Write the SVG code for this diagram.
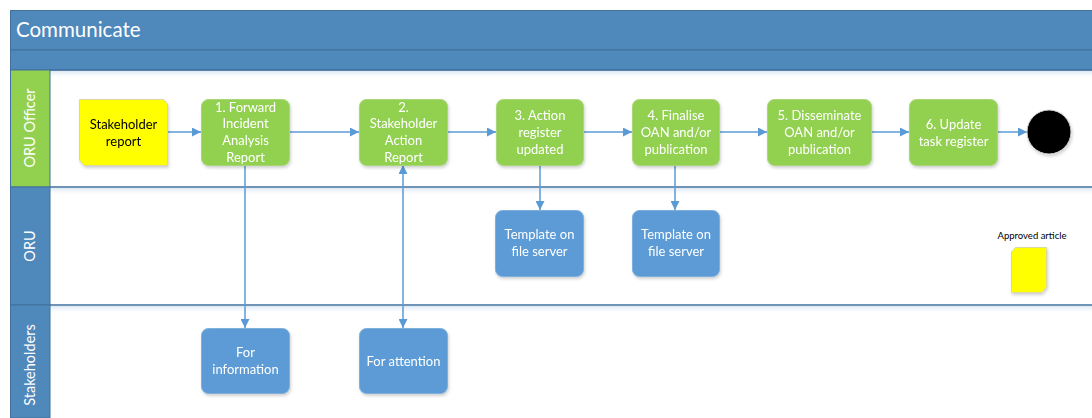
<svg xmlns="http://www.w3.org/2000/svg" width="1092" height="418" viewBox="0 0 1092 418">
  <defs>
    <style>
      .lbl { font-family: Lato, "Open Sans", "Liberation Sans", sans-serif; font-size: 13px; fill: #ffffff; text-anchor: middle; }
      .dark { fill: #000000; }
      .lane { font-family: Lato, "Open Sans", "Liberation Sans", sans-serif; font-size: 14.5px; fill: #ffffff; text-anchor: middle; }
      .task { fill: #92D050; stroke: #A9D67A; stroke-width: 1; }
      .info { fill: #5B9BD5; stroke: #7FB0DD; stroke-width: 1; }
      .conn { fill: none; stroke: #5B9BD5; stroke-width: 1.5; }
      .sep { stroke: #41719C; stroke-width: 1.5; }
    </style>
    <marker id="arrow" viewBox="0 0 10 10" refX="10" refY="5" markerWidth="9" markerHeight="9" markerUnits="userSpaceOnUse" orient="auto-start-reverse">
      <path d="M0,0 L10,5 L0,10 z" fill="#5B9BD5"/>
    </marker>
    <filter id="shadow" x="-10%" y="-10%" width="130%" height="130%">
      <feDropShadow dx="1" dy="2" stdDeviation="1.5" flood-color="#000000" flood-opacity="0.18"/>
    </filter>
    <linearGradient id="laneShade" x1="0" y1="0" x2="0" y2="1">
      <stop offset="0" stop-color="#DCE8F4"/>
      <stop offset="1" stop-color="#ffffff" stop-opacity="0"/>
    </linearGradient>
  </defs>

  <rect width="1092" height="418" fill="#ffffff"/>

  <!-- Pool header -->
  <g id="pool-header">
    <rect x="10.5" y="10.5" width="1090" height="39.5" fill="#4F88BB" stroke="#41719C"/>
    <rect x="10.5" y="50" width="1090" height="20" fill="#4F88BB" stroke="#41719C"/>
    <text x="16" y="37" font-family="Lato, 'Open Sans', 'Liberation Sans', sans-serif" font-size="20.5" fill="#ffffff">Communicate</text>
  </g>

  <!-- Lanes -->
  <g id="lanes">
    <rect x="50" y="71" width="1042" height="8" fill="url(#laneShade)"/>
    <rect x="50" y="188" width="1042" height="8" fill="url(#laneShade)"/>
    <rect x="50" y="306" width="1042" height="8" fill="url(#laneShade)"/>
    <rect x="10.5" y="70" width="39.5" height="117" fill="#92D050" stroke="#41719C"/>
    <rect x="10.5" y="187" width="39.5" height="118" fill="#4F88BB" stroke="#41719C"/>
    <rect x="10.5" y="305" width="39.5" height="113" fill="#4F88BB" stroke="#41719C"/>
    <line class="sep" x1="50" y1="70" x2="1092" y2="70"/>
    <line class="sep" x1="50" y1="187" x2="1092" y2="187"/>
    <line class="sep" x1="50" y1="305" x2="1092" y2="305"/>
    <text class="lane" transform="translate(35,128) rotate(-90)">ORU Officer</text>
    <text class="lane" transform="translate(35,246) rotate(-90)">ORU</text>
    <text class="lane" transform="translate(35,365) rotate(-90)">Stakeholders</text>
  </g>

  <!-- Connectors -->
  <g id="connectors">
    <line class="conn" x1="167" y1="132" x2="201" y2="132" marker-end="url(#arrow)"/>
    <line class="conn" x1="289" y1="132" x2="359" y2="132" marker-end="url(#arrow)"/>
    <line class="conn" x1="447" y1="132" x2="496" y2="132" marker-end="url(#arrow)"/>
    <line class="conn" x1="583" y1="132" x2="632" y2="132" marker-end="url(#arrow)"/>
    <line class="conn" x1="719" y1="132" x2="767" y2="132" marker-end="url(#arrow)"/>
    <line class="conn" x1="872" y1="132" x2="909" y2="132" marker-end="url(#arrow)"/>
    <line class="conn" x1="997" y1="132" x2="1027" y2="132" marker-end="url(#arrow)"/>
    <line class="conn" x1="245" y1="165" x2="245" y2="328" marker-end="url(#arrow)"/>
    <line class="conn" x1="403" y1="165" x2="403" y2="328" marker-start="url(#arrow)" marker-end="url(#arrow)"/>
    <line class="conn" x1="540" y1="165" x2="540" y2="210" marker-end="url(#arrow)"/>
    <line class="conn" x1="675" y1="165" x2="675" y2="210" marker-end="url(#arrow)"/>
  </g>

  <!-- ORU Officer lane -->
  <g id="stakeholder-report" filter="url(#shadow)">
    <path d="M79.5,99.5 H163.5 L167.5,104 V165.5 H84 L79.5,160 Z" fill="#FFFF00" stroke="#D9D9A0"/>
    <text class="lbl dark" x="123.5" y="128.5">Stakeholder</text>
    <text class="lbl dark" x="123.5" y="145.5">report</text>
  </g>
  <g id="task-1" filter="url(#shadow)">
    <rect class="task" x="201.5" y="99.5" width="88" height="66" rx="7"/>
    <text class="lbl" x="245.5" y="111.5">1. Forward</text>
    <text class="lbl" x="245.5" y="128">Incident</text>
    <text class="lbl" x="245.5" y="145">Analysis</text>
    <text class="lbl" x="245.5" y="162">Report</text>
  </g>
  <g id="task-2" filter="url(#shadow)">
    <rect class="task" x="359.5" y="99.5" width="88" height="66" rx="7"/>
    <text class="lbl" x="403.5" y="111.5">2.</text>
    <text class="lbl" x="403.5" y="128">Stakeholder</text>
    <text class="lbl" x="403.5" y="145">Action</text>
    <text class="lbl" x="403.5" y="162">Report</text>
  </g>
  <g id="task-3" filter="url(#shadow)">
    <rect class="task" x="496.5" y="99.5" width="87" height="66" rx="7"/>
    <text class="lbl" x="540" y="119.5">3. Action</text>
    <text class="lbl" x="540" y="136.5">register</text>
    <text class="lbl" x="540" y="153.5">updated</text>
  </g>
  <g id="task-4" filter="url(#shadow)">
    <rect class="task" x="632.5" y="99.5" width="87" height="66" rx="7"/>
    <text class="lbl" x="676" y="119.5">4. Finalise</text>
    <text class="lbl" x="676" y="136.5">OAN and/or</text>
    <text class="lbl" x="676" y="153.5">publication</text>
  </g>
  <g id="task-5" filter="url(#shadow)">
    <rect class="task" x="767.5" y="99.5" width="104" height="66" rx="7"/>
    <text class="lbl" x="819.5" y="119.5">5. Disseminate</text>
    <text class="lbl" x="819.5" y="136.5">OAN and/or</text>
    <text class="lbl" x="819.5" y="153.5">publication</text>
  </g>
  <g id="task-6" filter="url(#shadow)">
    <rect class="task" x="909.5" y="99.5" width="88" height="66" rx="7"/>
    <text class="lbl" x="953.5" y="128.5">6. Update</text>
    <text class="lbl" x="953.5" y="145.5">task register</text>
  </g>
  <g id="end-event" filter="url(#shadow)">
    <circle cx="1049" cy="132" r="22" fill="#000000" stroke="#D0D0D0" stroke-width="1"/>
  </g>

  <!-- ORU lane -->
  <g id="template-1" filter="url(#shadow)">
    <rect class="info" x="495.5" y="210.5" width="88" height="66" rx="7"/>
    <text class="lbl" x="539.5" y="238.5">Template on</text>
    <text class="lbl" x="539.5" y="256">file server</text>
  </g>
  <g id="template-2" filter="url(#shadow)">
    <rect class="info" x="632.5" y="210.5" width="87" height="66" rx="7"/>
    <text class="lbl" x="676" y="238.5">Template on</text>
    <text class="lbl" x="676" y="256">file server</text>
  </g>
  <g id="approved-article">
    <text x="1032" y="239" font-family="Lato, 'Open Sans', 'Liberation Sans', sans-serif" font-size="9.5" fill="#000000" text-anchor="middle">Approved article</text>
    <path d="M1015.5,247.5 H1046.5 V287 L1042,292.5 H1011.5 V252 Z" fill="#FFFF00" stroke="#D9D9A0" filter="url(#shadow)"/>
  </g>

  <!-- Stakeholders lane -->
  <g id="for-information" filter="url(#shadow)">
    <rect class="info" x="201.5" y="328.5" width="88" height="65" rx="7"/>
    <text class="lbl" x="245.5" y="356.5">For</text>
    <text class="lbl" x="245.5" y="373.5">information</text>
  </g>
  <g id="for-attention" filter="url(#shadow)">
    <rect class="info" x="359.5" y="328.5" width="88" height="65" rx="7"/>
    <text class="lbl" x="403.5" y="366">For attention</text>
  </g>
</svg>
